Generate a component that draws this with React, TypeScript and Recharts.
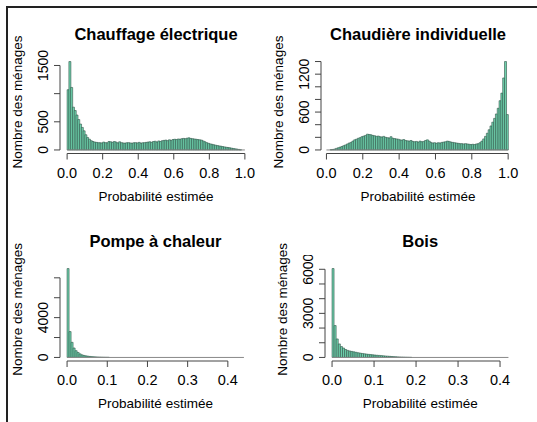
import { BarChart, Bar, XAxis, YAxis, ReferenceLine } from 'recharts';

const FONT = '"Liberation Sans", Arial, Helvetica, sans-serif';
const BAR_FILL = '#6fd3ae';
const BAR_EDGE = '#2f5246';
const AXIS = '#444';

const xLabel = 'Probabilité estimée';
const yLabel = 'Nombre des ménages';

// counts per bin of 0.01, from 0.00 to 1.00
const electriqueCounts = [
    1070, 1570, 1110, 760, 700, 620, 540, 460, 400, 340,
    270, 220, 190, 165, 150, 140, 135, 130, 128, 125,
    140, 130, 128, 150, 145, 135, 150, 140, 125, 145,
    130, 125, 120, 128, 130, 125, 120, 128, 130, 125,
    135, 120, 128, 130, 135, 140, 145, 135, 150, 155,
    140, 160, 150, 165, 170, 175, 165, 180, 170, 185,
    190, 185, 195, 190, 200, 205, 200, 210, 215, 205,
    200, 195, 190, 185, 180, 175, 160, 145, 130, 118,
    108, 100, 92, 85, 78, 72, 66, 60, 54, 48,
    44, 38, 32, 26, 20, 15, 10, 3, 0, 0,
];

const chaudiereCounts = [
    0, 0, 5, 8, 15, 25, 35, 45, 55, 68,
    80, 95, 110, 120, 140, 160, 170, 185, 195, 210,
    220, 230, 250, 245, 240, 230, 225, 215, 220, 210,
    205, 215, 200, 195, 190, 210, 185, 180, 175, 170,
    160, 155, 165, 150, 145, 140, 150, 135, 130, 135,
    125, 140, 130, 135, 150, 160, 140, 120, 110, 115,
    105, 115, 110, 120, 125, 130, 140, 135, 125, 120,
    115, 110, 105, 100, 100, 95, 100, 95, 90, 85,
    90, 85, 95, 100, 115, 140, 175, 215, 265, 320,
    380, 440, 500, 570, 660, 780, 900, 1140, 1400, 560,
];

// counts per bin of 0.005 (only non-empty bins; later bins are empty)
const pompeCounts = [
    8930, 2600, 1520, 950, 680, 500, 360, 260, 200, 160,
    125, 100, 80, 65, 52, 42, 34, 27, 21, 16,
    12,
];

const boisCounts = [
    6050, 2170, 1260, 920, 740, 640, 540, 480, 440, 410,
    380, 350, 320, 295, 270, 250, 230, 210, 195, 180,
    165, 150, 138, 125, 112, 100, 88, 76, 65, 55,
    46, 38, 31, 25, 20, 15, 11, 7,
];

const xTicksTop = [0, 0.2, 0.4, 0.6, 0.8, 1.0];
const xTicksBottom = [0, 0.1, 0.2, 0.3, 0.4];

type Panel = {
    title: string;
    counts: number[];
    binWidth: number;
    lastBreak: number;
    xTicks: number[];
    yTicks: number[];
    yLabels: number[];
};

const panels: Panel[] = [
    {
        title: 'Chauffage électrique',
        counts: electriqueCounts,
        binWidth: 0.01,
        lastBreak: 1.0,
        xTicks: xTicksTop,
        yTicks: [0, 500, 1000, 1500],
        yLabels: [0, 500, 1500],
    },
    {
        title: 'Chaudière individuelle',
        counts: chaudiereCounts,
        binWidth: 0.01,
        lastBreak: 1.0,
        xTicks: xTicksTop,
        yTicks: [0, 200, 400, 600, 800, 1000, 1200, 1400],
        yLabels: [0, 600, 1200],
    },
    {
        title: 'Pompe à chaleur',
        counts: pompeCounts,
        binWidth: 0.005,
        lastBreak: 0.44,
        xTicks: xTicksBottom,
        yTicks: [0, 2000, 4000, 6000, 8000],
        yLabels: [0, 4000],
    },
    {
        title: 'Bois',
        counts: boisCounts,
        binWidth: 0.005,
        lastBreak: 0.42,
        xTicks: xTicksBottom,
        yTicks: [0, 1000, 2000, 3000, 4000, 5000, 6000],
        yLabels: [0, 3000, 6000],
    },
];

// plot regions on the page and their x ranges
const boxes = [
    { left: 60, top: 57.5, width: 192, height: 95.5, xLo: -0.04, xHi: 1.04 },
    { left: 321, top: 57.5, width: 194, height: 95.5, xLo: -0.03, xHi: 1.0377 },
    { left: 60, top: 264.8, width: 191, height: 96, xLo: -0.0176, xHi: 0.4576 },
    { left: 325, top: 264.8, width: 190.5, height: 96, xLo: -0.0168, xHi: 0.4368 },
];

const RotatedTick = (props: any) => {
    const { x, y, payload, shown } = props;
    if (!shown.includes(payload.value)) return <g />;
    return (
        <text
            x={x}
            y={y}
            transform={`rotate(-90, ${x}, ${y})`}
            textAnchor="middle"
            fontSize={14}
            fontFamily={FONT}
            fill="#000"
        >
            {payload.value}
        </text>
    );
};

const Histogram = ({ panel, box }: { panel: Panel; box: (typeof boxes)[number] }) => {
    const data = panel.counts.map((count, i) => ({ x: (i + 0.5) * panel.binWidth, count }));
    const maxCount = Math.max(...panel.counts);
    const yDomain = [-0.04 * maxCount, 1.04 * maxCount];
    const yTop = panel.yTicks[panel.yTicks.length - 1];
    const xEnd = panel.xTicks[panel.xTicks.length - 1];
    const padL = 70;
    const padT = 10;
    const padR = 10;
    const padB = 40;
    return (
        <div style={{ position: 'absolute', left: box.left - padL, top: box.top - padT }}>
            <BarChart
                width={box.width + padL + padR}
                height={box.height + padT + padB}
                data={data}
                margin={{ top: padT, right: padR, bottom: padB - 30, left: padL - 50 }}
                barCategoryGap={0}
                barGap={0}
            >
                <XAxis
                    type="number"
                    dataKey="x"
                    domain={[box.xLo, box.xHi]}
                    allowDataOverflow
                    ticks={panel.xTicks}
                    interval={0}
                    tickFormatter={(v: number) => v.toFixed(1)}
                    axisLine={false}
                    tickLine={{ stroke: AXIS }}
                    tickSize={6}
                    tickMargin={8}
                    height={30}
                    tick={{ fontSize: 14.5, fill: '#000', fontFamily: FONT }}
                />
                <YAxis
                    type="number"
                    domain={yDomain}
                    allowDataOverflow
                    ticks={panel.yTicks}
                    interval={0}
                    width={50}
                    axisLine={false}
                    tickLine={{ stroke: AXIS }}
                    tickSize={6}
                    tickMargin={6}
                    tick={(p: any) => <RotatedTick {...p} shown={panel.yLabels} />}
                />
                <ReferenceLine
                    segment={[{ x: 0, y: 0 }, { x: panel.lastBreak, y: 0 }]}
                    stroke="#888"
                    ifOverflow="visible"
                />
                <Bar
                    dataKey="count"
                    fill={BAR_FILL}
                    stroke={BAR_EDGE}
                    strokeWidth={0.6}
                    isAnimationActive={false}
                />
                <ReferenceLine
                    segment={[{ x: 0, y: yDomain[0] }, { x: xEnd, y: yDomain[0] }]}
                    stroke={AXIS}
                    ifOverflow="visible"
                />
                <ReferenceLine
                    segment={[{ x: box.xLo, y: 0 }, { x: box.xLo, y: yTop }]}
                    stroke={AXIS}
                    ifOverflow="visible"
                />
            </BarChart>
        </div>
    );
};

const App = () => {
    return (
        <div
            style={{
                position: 'absolute',
                left: 0,
                top: 0,
                width: 537,
                height: 422,
                background: '#fff',
                overflow: 'hidden',
                fontFamily: FONT,
            }}
        >
            <div
                style={{
                    position: 'absolute',
                    left: 6,
                    top: 6,
                    width: 537,
                    height: 422,
                    borderLeft: '2px solid #222',
                    borderTop: '2px solid #222',
                }}
            />
            {panels.map((p, i) => (
                <Histogram key={p.title} panel={p} box={boxes[i]} />
            ))}
            <svg
                width={537}
                height={422}
                style={{ position: 'absolute', left: 0, top: 0, pointerEvents: 'none' }}
            >
                {panels.map((p, i) => {
                    const b = boxes[i];
                    const cx = b.left + b.width / 2;
                    const ly = b.top + 44.5;
                    const lx = b.left - 38;
                    return (
                        <g key={p.title} fontFamily={FONT} fill="#000">
                            <text x={cx} y={b.top - 17.5} textAnchor="middle" fontSize={16.5} fontWeight="bold">
                                {p.title}
                            </text>
                            <text x={cx} y={b.top + b.height + 47.5} textAnchor="middle" fontSize={13.5}>
                                {xLabel}
                            </text>
                            <text
                                x={lx}
                                y={ly}
                                transform={`rotate(-90, ${lx}, ${ly})`}
                                textAnchor="middle"
                                fontSize={13.5}
                            >
                                {yLabel}
                            </text>
                        </g>
                    );
                })}
            </svg>
        </div>
    );
};

export default App;
